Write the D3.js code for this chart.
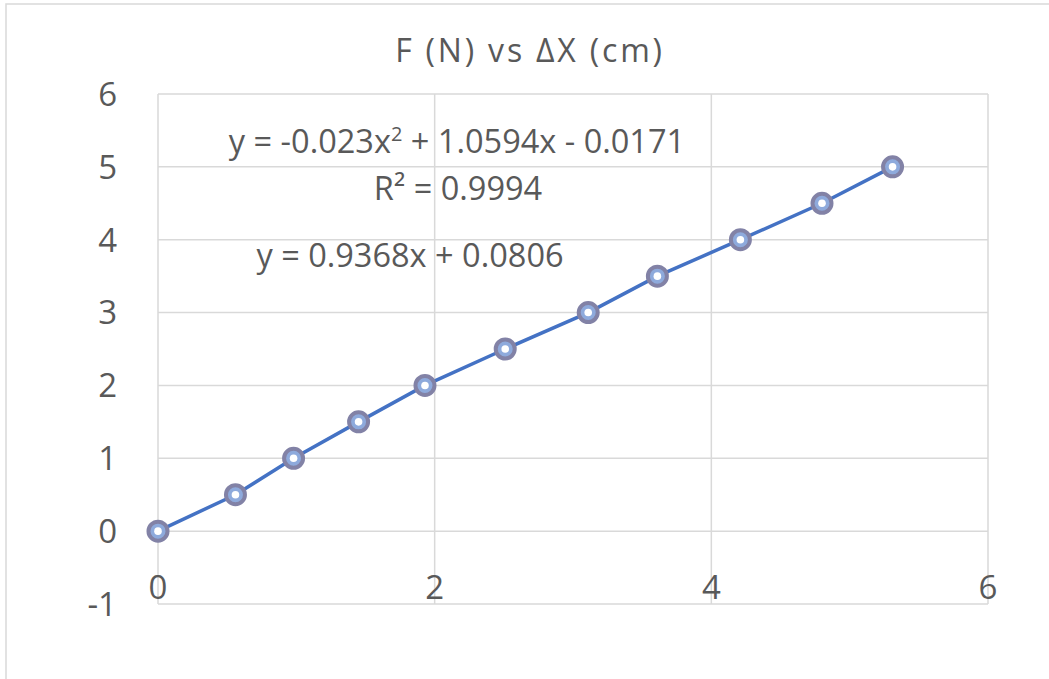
<!DOCTYPE html>
<html>
<head>
<meta charset="utf-8">
<script src="https://cdn.jsdelivr.net/npm/d3@7"></script>
<style>
  body { margin: 0; background: #fff; }
  text { font-family: "Open Sans", "Noto Sans", sans-serif; fill: #595959; }
</style>
</head>
<body>
<svg id="chart" width="1049" height="679"></svg>
<script>
// data
var dx = [0, 0.56, 0.98, 1.45, 1.93, 2.51, 3.11, 3.61, 4.21, 4.80, 5.31];
var force = [0, 0.5, 1, 1.5, 2, 2.5, 3, 3.5, 4, 4.5, 5];
var xTicks = [0, 2, 4, 6];
var yTicks = [-1, 0, 1, 2, 3, 4, 5, 6];
var title = "F (N) vs \u0394X (cm)";
var polyLabel = ["y = -0.023x", "2", " + 1.0594x - 0.0171"];
var r2Label = "R\u00b2 = 0.9994";
var linLabel = "y = 0.9368x + 0.0806";

var svg = d3.select("#chart");

// outer chart border
svg.append("rect")
    .attr("x", 6).attr("y", 4)
    .attr("width", 1060).attr("height", 700)
    .attr("fill", "none")
    .attr("stroke", "#d9d9d9")
    .attr("stroke-width", 1.5);

var x = d3.scaleLinear().domain([0, 6]).range([158, 988]);
var y = d3.scaleLinear().domain([-1, 6]).range([604, 94]);

// gridlines
svg.append("g").selectAll("line").data(yTicks).enter().append("line")
    .attr("x1", x(0)).attr("x2", x(6))
    .attr("y1", function (d) { return y(d); })
    .attr("y2", function (d) { return y(d); })
    .attr("stroke", "#d9d9d9").attr("stroke-width", 1.5);

svg.append("g").selectAll("line").data(xTicks).enter().append("line")
    .attr("x1", function (d) { return x(d); })
    .attr("x2", function (d) { return x(d); })
    .attr("y1", y(6)).attr("y2", y(-1))
    .attr("stroke", "#d9d9d9").attr("stroke-width", 1.5);

// tick labels
svg.append("g").selectAll("text").data(yTicks).enter().append("text")
    .attr("x", 117)
    .attr("y", function (d) { return y(d); })
    .attr("dy", "0.36em")
    .attr("text-anchor", "end")
    .style("font-size", "33px")
    .text(function (d) { return d; });

svg.append("g").selectAll("text").data(xTicks).enter().append("text")
    .attr("x", function (d) { return x(d); })
    .attr("y", 599)
    .attr("text-anchor", "middle")
    .style("font-size", "33px")
    .text(function (d) { return d; });

// title
svg.append("text")
    .attr("x", 530).attr("y", 62)
    .attr("text-anchor", "middle")
    .style("font-size", "32px")
    .style("letter-spacing", "2.8px")
    .text(title);

// series line
var pts = dx.map(function (d, i) { return [d, force[i]]; });
svg.append("path")
    .datum(pts)
    .attr("fill", "none")
    .attr("stroke", "#4472c4")
    .attr("stroke-width", 3.5)
    .attr("d", d3.line()
        .x(function (d) { return x(d[0]); })
        .y(function (d) { return y(d[1]); }));

// markers
var m = svg.append("g").selectAll("g").data(pts).enter().append("g")
    .attr("transform", function (d) { return "translate(" + x(d[0]) + "," + y(d[1]) + ")"; });
m.append("circle")
    .attr("r", 9.5)
    .attr("fill", "#8eaadc")
    .attr("stroke", "#8282a6")
    .attr("stroke-width", 4);
m.append("circle")
    .attr("r", 3.8)
    .attr("fill", "#fff");

// trendline labels
var t1 = svg.append("text")
    .attr("x", 457).attr("y", 153)
    .attr("text-anchor", "middle")
    .style("font-size", "32.5px");
t1.append("tspan").text(polyLabel[0]);
t1.append("tspan").attr("dy", -12).style("font-size", "20px").text(polyLabel[1]);
t1.append("tspan").attr("dy", 12).text(polyLabel[2]);

svg.append("text")
    .attr("x", 458).attr("y", 200)
    .attr("text-anchor", "middle")
    .style("font-size", "32.5px")
    .text(r2Label);

svg.append("text")
    .attr("x", 410).attr("y", 267)
    .attr("text-anchor", "middle")
    .style("font-size", "32.5px")
    .text(linLabel);
</script>
</body>
</html>
